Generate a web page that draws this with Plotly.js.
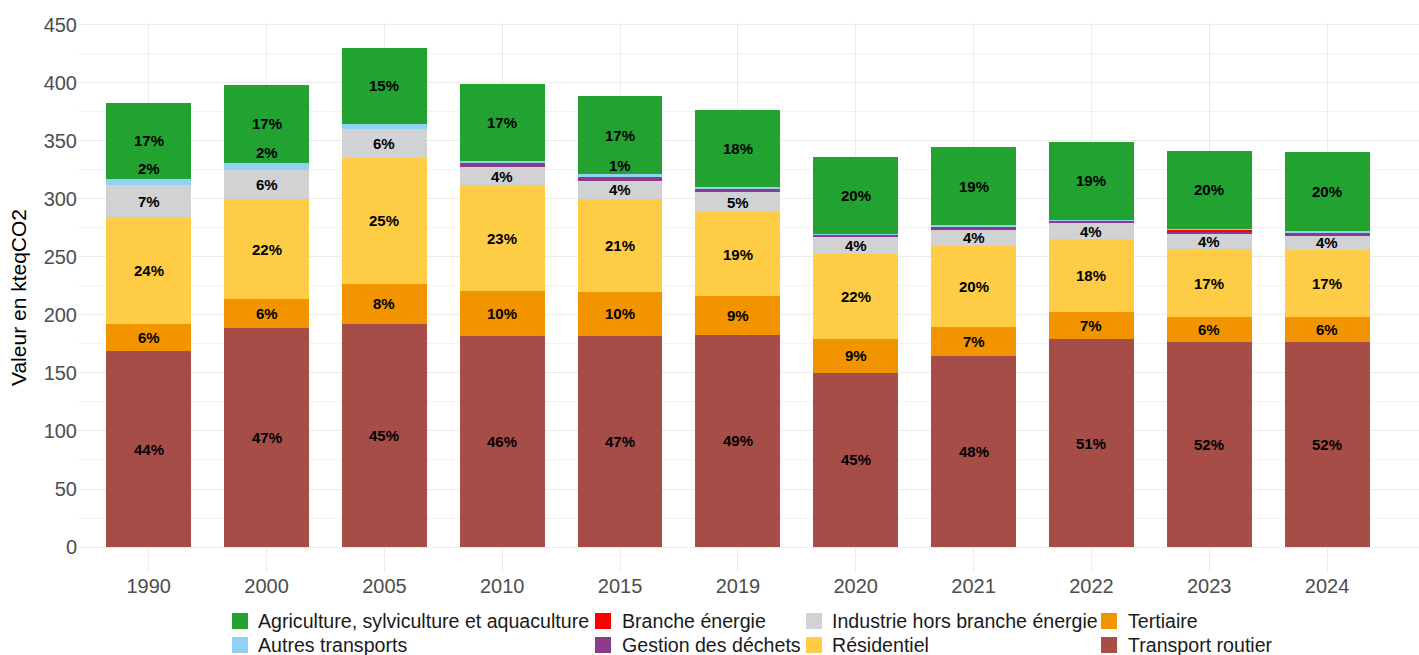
<!DOCTYPE html>
<html>
<head>
<meta charset="utf-8">
<script src="https://cdn.plot.ly/plotly-3.0.1.min.js"></script>
<style>html,body{margin:0;padding:0;background:#fff;}#chart{width:1419px;height:655px;}</style>
</head>
<body>
<div id="chart"></div>
<script>
// Categories
const years = ['1990','2000','2005','2010','2015','2019','2020','2021','2022','2023','2024'];

// Series values (kteqCO2)
const transportRoutier = [168.5, 188.5, 192.5, 182, 182, 183, 150, 165, 179, 176.5, 176.5];
const tertiaire        = [24, 25, 34, 38.5, 38, 33, 29.5, 24.5, 23.5, 21.5, 21.3];
const residentiel      = [91.5, 86, 109, 91, 80, 72.5, 73, 70, 63, 58.5, 58.5];
const industrie        = [27.5, 25.5, 24.7, 16, 15.5, 17.5, 14.8, 14, 13.4, 13, 12];
const gestionDechets   = [0, 0, 0, 3.4, 4.0, 3, 2, 2.6, 2.5, 2.6, 2.6];
const brancheEnergie   = [0, 0, 0, 0, 0, 0, 0, 0, 0, 1.5, 0];
const autresTransports = [6, 6.2, 4.2, 1.8, 1.7, 1.2, 0.5, 1.7, 0.8, 0.3, 1.0];
const agriculture      = [65.5, 67, 65.7, 66.5, 67, 66.4, 66.2, 66.5, 66.5, 67.5, 68.8];

// Series names (legend labels)
const names = ['Transport routier','Tertiaire','Résidentiel','Industrie hors branche énergie',
  'Gestion des déchets','Branche énergie','Autres transports','Agriculture, sylviculture et aquaculture'];

// stacking order bottom -> top
const series = [transportRoutier, tertiaire, residentiel, industrie, gestionDechets, brancheEnergie, autresTransports, agriculture];
const colors = ['#A64D48','#F29400','#FECC45','#D1D2D4','#8C3A8C','#FF0000','#8FD3F0','#21A231'];

// legend grid position (column 0..3, row 0..1) of each series
const legendCol = [3, 3, 2, 2, 1, 1, 0, 0];
const legendRow = [1, 0, 1, 0, 1, 0, 1, 0];

const W = 1419, H = 655, M = {l: 78, r: 0, t: 23, b: 83};
const PW = W - M.l - M.r, PH = H - M.t - M.b;
const px2x = p => (p - M.l) / PW;
const px2y = p => (H - M.b - p) / PH;
const FONT = 'Liberation Sans, Arial, sans-serif';

const traces = series.map((vals, i) => ({
  type: 'bar', x: years, y: vals, name: names[i], showlegend: false,
  marker: {color: colors[i], line: {width: 0}},
  hovertemplate: '%{x}<br>' + names[i] + ': %{y}<extra></extra>'
}));

// percentage labels (x given as category index)
const totals = years.map((_, j) => series.reduce((s, v) => s + v[j], 0));
const annotations = [];
years.forEach((yr, j) => {
  let base = 0;
  series.forEach((vals, i) => {
    const v = vals[j];
    const pct = v / totals[j] * 100;
    if (pct >= 1) {
      const small = v < 10;
      annotations.push({
        x: j, y: small ? base + v : base + v / 2,
        xref: 'x', yref: 'y', showarrow: false,
        xanchor: 'center', yanchor: small ? 'bottom' : 'middle',
        text: '<b>' + Math.round(pct) + '%</b>',
        font: {family: FONT, size: 15, color: '#000'}
      });
    }
    base += v;
  });
});

// legend drawn as swatches + texts
const colSwatchPx = [232, 595, 806, 1101];
const colTextPx = [256, 620, 830, 1126];
const rowMidPx = [621, 645];
const shapes = [];
series.forEach((_, i) => {
  const c = legendCol[i], r = legendRow[i];
  shapes.push({
    type: 'rect', xref: 'paper', yref: 'paper', layer: 'above',
    x0: px2x(colSwatchPx[c]), x1: px2x(colSwatchPx[c] + 16),
    y0: px2y(rowMidPx[r] + 8), y1: px2y(rowMidPx[r] - 8),
    fillcolor: colors[i], line: {width: 0}
  });
  annotations.push({
    xref: 'paper', yref: 'paper', x: px2x(colTextPx[c]), y: px2y(rowMidPx[r]),
    xanchor: 'left', yanchor: 'middle', showarrow: false, text: names[i],
    font: {family: FONT, size: 19.6, color: '#1a1a1a'}
  });
});

const layout = {
  width: W, height: H,
  margin: Object.assign({autoexpand: false}, M),
  paper_bgcolor: '#fff', plot_bgcolor: '#fff',
  barmode: 'stack', bargap: 0.28, showlegend: false,
  font: {family: FONT},
  xaxis: {
    type: 'category', range: [-0.6, 10.78], automargin: false,
    showgrid: true, gridcolor: '#EBEBEB', gridwidth: 1,
    zeroline: false, showline: false, ticks: '',
    tickfont: {size: 20, color: '#4D4D4D'}
  },
  yaxis: {
    range: [-21.5, 451.5], tickmode: 'linear', tick0: 0, dtick: 50, automargin: false,
    showgrid: true, gridcolor: '#EBEBEB', gridwidth: 1,
    minor: {tickmode: 'linear', tick0: 0, dtick: 25, showgrid: true, gridcolor: '#F3F3F3', gridwidth: 1},
    zeroline: false, showline: false, ticks: '',
    tickfont: {size: 20, color: '#4D4D4D'},
    title: {text: 'Valeur en kteqCO2', font: {size: 21, color: '#000'}}
  },
  shapes: shapes,
  annotations: annotations
};

Plotly.newPlot('chart', traces, layout, {displayModeBar: false, responsive: false});
</script>
</body>
</html>
